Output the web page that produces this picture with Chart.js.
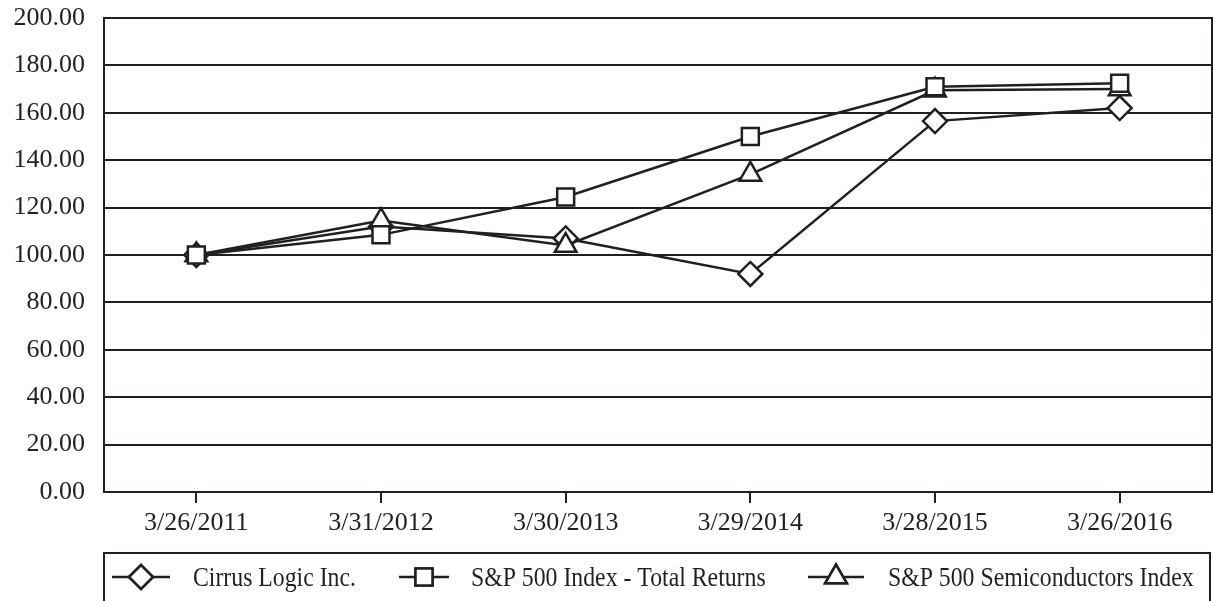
<!DOCTYPE html>
<html>
<head>
<meta charset="utf-8">
<script src="https://cdn.jsdelivr.net/npm/chart.js@4.4.1/dist/chart.umd.min.js"></script>
<style>
html,body{margin:0;padding:0;background:#fff;overflow:hidden;}
#wrap{width:1213px;height:601px;position:relative;}
canvas{display:block;}
</style>
</head>
<body>
<div id="wrap"><canvas id="c" width="1213" height="601"></canvas></div>
<script>
const categories = ['3/26/2011','3/31/2012','3/30/2013','3/29/2014','3/28/2015','3/26/2016'];
const cirrus = [100, 112, 107, 92, 156.5, 162];
const sp500 = [100, 108.5, 124.5, 150, 171, 172.5];
const semis = [100, 114.5, 104, 134, 169.5, 170];
const seriesNames = ['Cirrus Logic Inc.', 'S&P 500 Index - Total Returns', 'S&P 500 Semiconductors Index'];
const yTicks = [0,20,40,60,80,100,120,140,160,180,200];

const INK = '#231f20';
const FONT = "'Liberation Serif', 'Times New Roman', serif";

// legend layout (pixels on the canvas)
const legendLayout = [
  {markerX: 141, lineHalf: 29, textX: 193},
  {markerX: 424, lineHalf: 25, textX: 471},
  {markerX: 836, lineHalf: 28, textX: 888}
];

const frameLegend = {
  id: 'frameLegend',
  afterDraw(chart) {
    const ctx = chart.ctx;
    const a = chart.chartArea;
    ctx.save();
    ctx.strokeStyle = INK;
    ctx.lineWidth = 2;
    ctx.strokeRect(a.left, a.top, a.right - a.left, a.bottom - a.top);
    const top = 553;
    ctx.strokeRect(a.left, top, a.right - a.left - 2, 70);
    const cy = 577;
    chart.data.datasets.forEach((ds, i) => {
      const L = legendLayout[i];
      ctx.strokeStyle = INK;
      ctx.lineWidth = 2.5;
      ctx.beginPath();
      ctx.moveTo(L.markerX - L.lineHalf, cy);
      ctx.lineTo(L.markerX + L.lineHalf, cy);
      ctx.stroke();
      ctx.fillStyle = '#fff';
      Chart.helpers.drawPoint(ctx, {pointStyle: ds.pointStyle, rotation: 0, radius: ds.pointRadius, borderWidth: 2.5}, L.markerX, cy);
      ctx.fill();
      ctx.stroke();
      ctx.save();
      ctx.translate(L.textX, 586);
      ctx.scale(0.88, 1);
      ctx.font = '27px ' + FONT;
      ctx.fillStyle = INK;
      ctx.textBaseline = 'alphabetic';
      ctx.fillText(ds.label, 0, 0);
      ctx.restore();
    });
    ctx.restore();
  }
};

const mk = (label, data, style, r, order) => ({
  label, data, order,
  borderColor: INK, backgroundColor: '#fff',
  borderWidth: 2.5,
  pointStyle: style, pointRadius: r, pointHoverRadius: r,
  pointBorderWidth: 2.5, pointBackgroundColor: '#fff', pointBorderColor: INK,
  tension: 0
});

new Chart(document.getElementById('c'), {
  type: 'line',
  data: {
    labels: categories,
    datasets: [
      mk(seriesNames[0], cirrus, 'rectRot', 12, 2),
      mk(seriesNames[1], sp500, 'rect', 12, 0),
      mk(seriesNames[2], semis, 'triangle', 12.5, 1)
    ]
  },
  options: {
    responsive: false,
    animation: false,
    devicePixelRatio: 1,
    layout: {autoPadding: false, padding: {top: 18, right: 1, bottom: 61, left: 0}},
    plugins: {legend: {display: false}, tooltip: {enabled: false}},
    scales: {
      x: {
        offset: true,
        grid: {display: true, drawOnChartArea: false, drawTicks: true, tickLength: 11, offset: false, color: INK, lineWidth: 2},
        border: {display: true, color: INK, width: 2},
        ticks: {color: INK, font: {family: FONT, size: 26}, padding: 5, maxRotation: 0, autoSkip: false},
        afterFit(s) { s.height = 48; s.paddingLeft = 0; s.paddingRight = 0; }
      },
      y: {
        min: 0, max: 200,
        afterBuildTicks(s) { s.ticks = yTicks.map(v => ({value: v})); },
        grid: {color: INK, lineWidth: 2, drawTicks: false},
        border: {display: true, color: INK, width: 2},
        ticks: {color: INK, font: {family: FONT, size: 26}, padding: 19, callback: v => Number(v).toFixed(2)},
        afterFit(s) { s.width = 104; s.paddingTop = 0; s.paddingBottom = 0; }
      }
    }
  },
  plugins: [frameLegend]
});
</script>
</body>
</html>
